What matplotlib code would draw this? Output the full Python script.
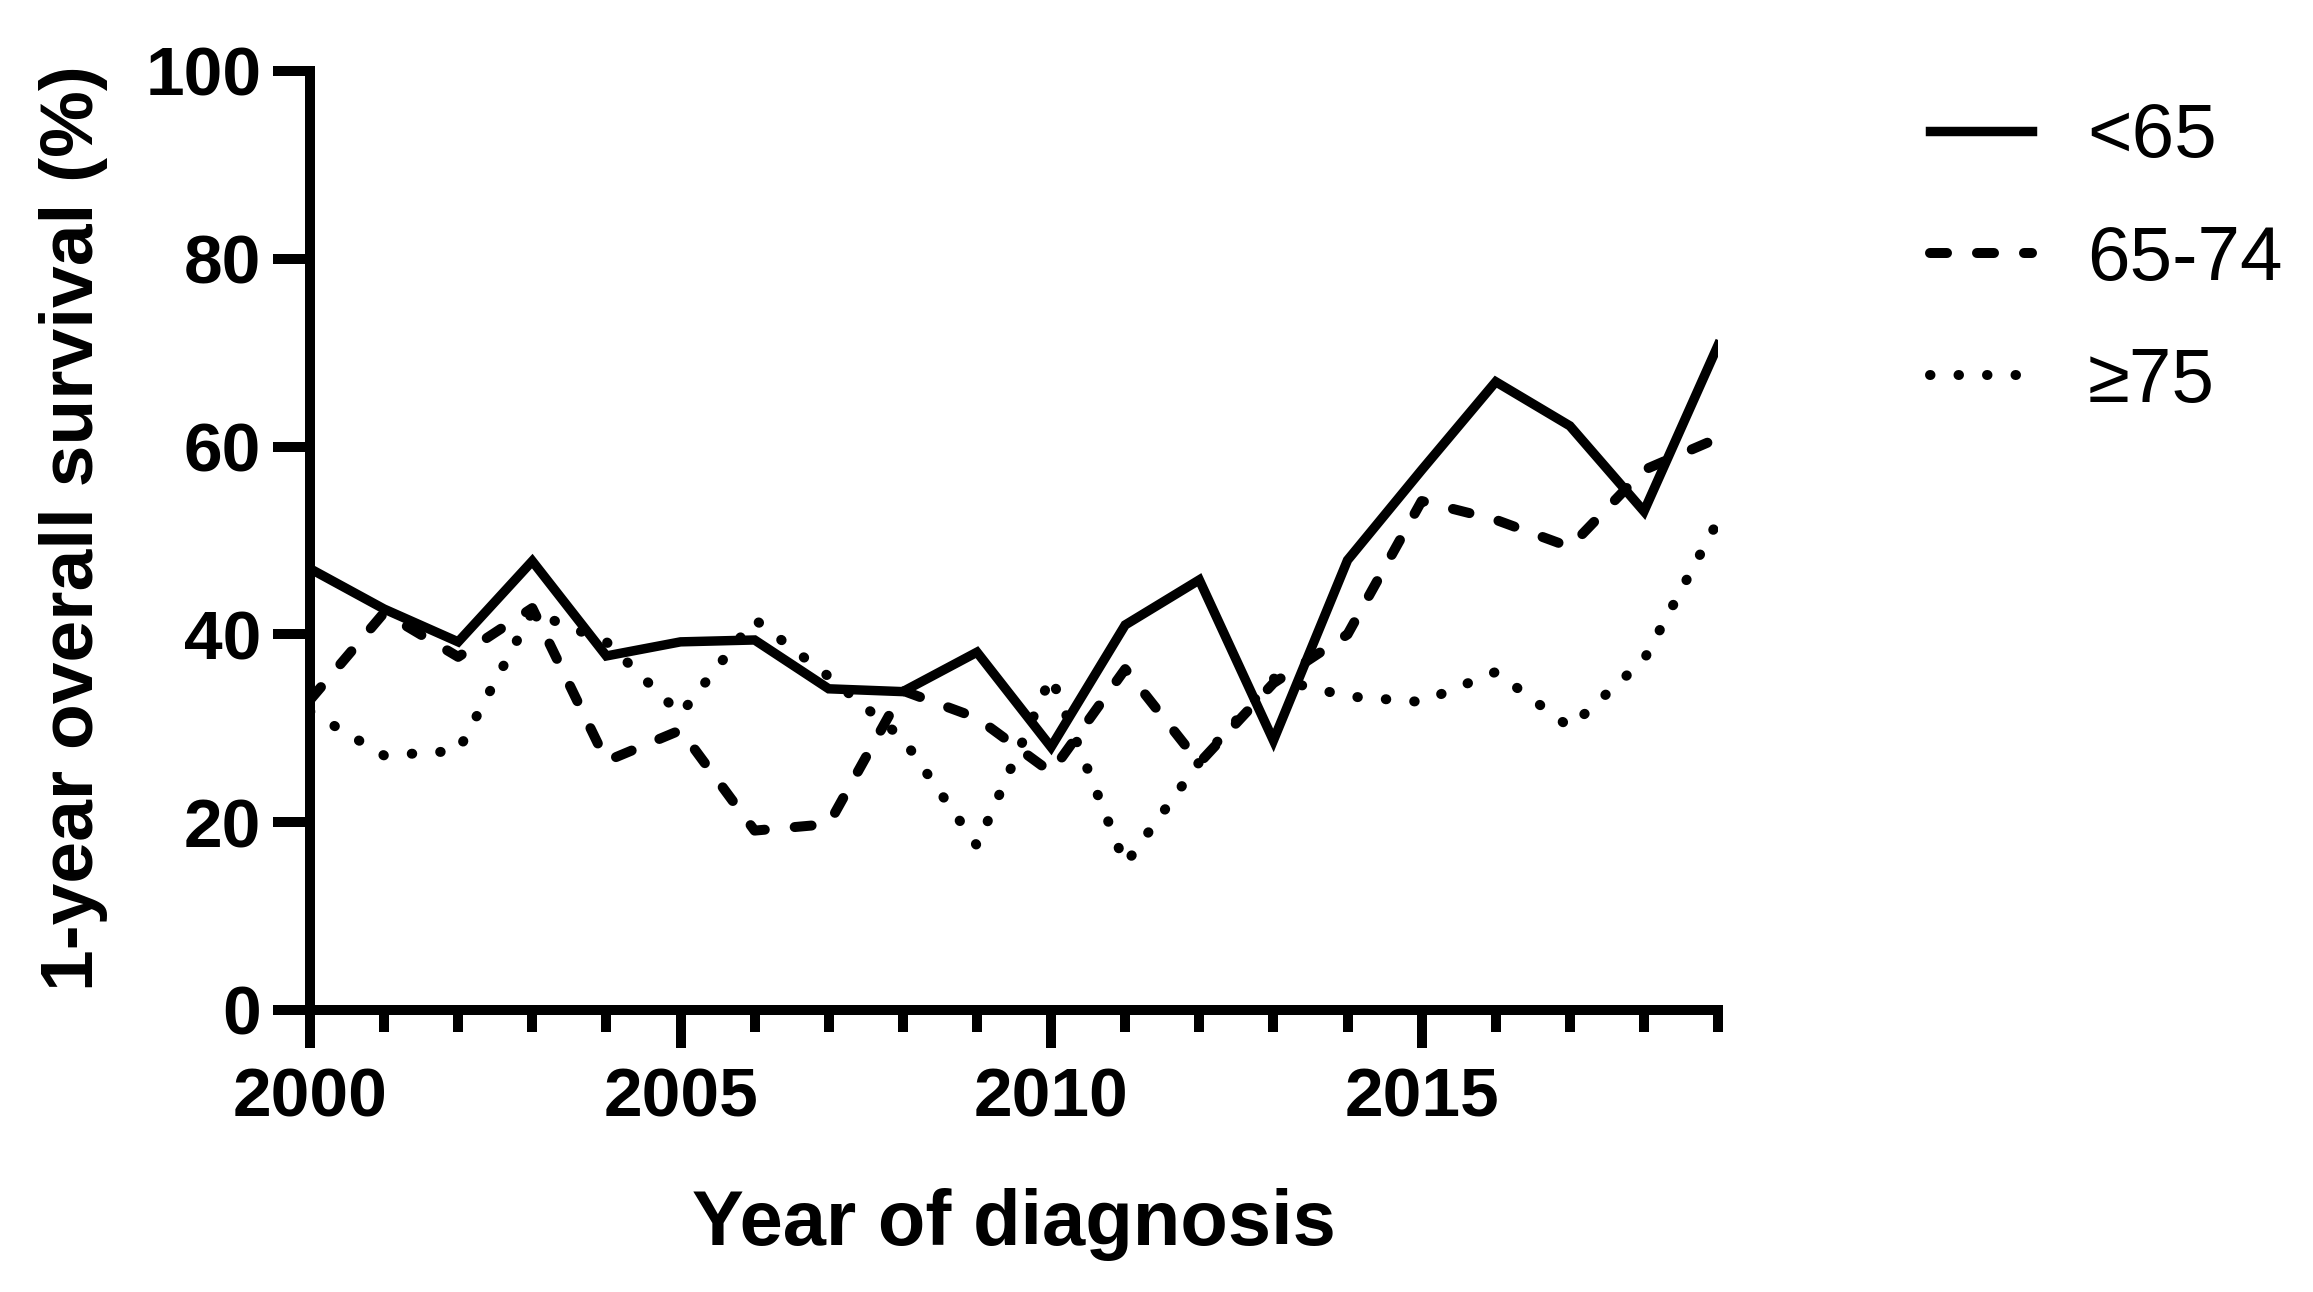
import matplotlib
matplotlib.use("Agg")
import matplotlib.pyplot as plt
from matplotlib.ticker import MultipleLocator

years = list(range(2000, 2020))
under_65 = [47.0, 42.7, 39.2, 47.8, 37.7, 39.2, 39.4, 34.2, 33.9, 38.1,
            28.0, 41.0, 45.8, 28.7, 47.9, 57.5, 66.9, 62.2, 53.1, 70.8]
age_65_74 = [33.0, 42.3, 37.6, 42.8, 26.5, 29.8, 19.1, 19.8, 34.0, 31.1,
             25.3, 36.3, 26.3, 34.8, 40.0, 54.2, 52.2, 49.3, 57.5, 60.9]
over_75 = [31.8, 27.1, 27.6, 42.4, 39.2, 31.5, 41.6, 35.5, 28.9, 17.5,
           35.5, 15.5, 26.4, 35.3, 33.4, 32.8, 36.0, 30.1, 37.3, 52.1]
labels = ["<65", "65-74", "≥75"]

plt.rcParams['font.family'] = ['Liberation Sans', 'DejaVu Sans']

fig = plt.figure(figsize=(23.13, 12.92), dpi=100)
ax = fig.add_axes([0.134, 0.2183, 0.6088, 0.7268])

l1, = ax.plot(years, under_65, color='black', lw=6.8, solid_joinstyle='miter')
l2, = ax.plot(years, age_65_74, color='black', lw=7.2, dashes=(1.7, 3.0),
              dash_capstyle='round', dash_joinstyle='round')
l3, = ax.plot(years, over_75, color='black', lw=7.2, dashes=(0.05, 2.8),
              dash_capstyle='round')

ax.set_xlim(2000, 2019)
ax.set_ylim(0, 100)
ax.xaxis.set_major_locator(MultipleLocator(5))
ax.xaxis.set_minor_locator(MultipleLocator(1))
ax.yaxis.set_major_locator(MultipleLocator(20))

for s in ['top', 'right']:
    ax.spines[s].set_visible(False)
for s in ['left', 'bottom']:
    ax.spines[s].set_linewidth(7.2)

ax.tick_params(axis='both', which='major', direction='out', length=27, width=7.2,
               labelsize=50)
ax.tick_params(axis='x', which='minor', direction='out', length=16, width=7.2)
ax.tick_params(axis='x', which='major', pad=14)
ax.tick_params(axis='y', which='major', pad=8)
for t in ax.get_xticklabels() + ax.get_yticklabels():
    t.set_fontweight('bold')

ax.set_xlabel("Year of diagnosis", fontsize=56, fontweight='bold')
ax.set_ylabel("1-year overall survival (%)", fontsize=54, fontweight='bold')
ax.xaxis.set_label_coords(0.5, -0.228)
ax.xaxis.label.set_verticalalignment('center')
ax.yaxis.set_label_coords(-0.168, 0.513)
ax.yaxis.label.set_verticalalignment('center')

fig.legend([l1, l2, l3], labels, loc='upper left', bbox_to_anchor=(0.8344, 0.9207),
           frameon=False, fontsize=55, handlelength=1.33, handletextpad=0.73,
           labelspacing=0.67, borderpad=0, borderaxespad=0)

fig.savefig("out.png", dpi=100)
